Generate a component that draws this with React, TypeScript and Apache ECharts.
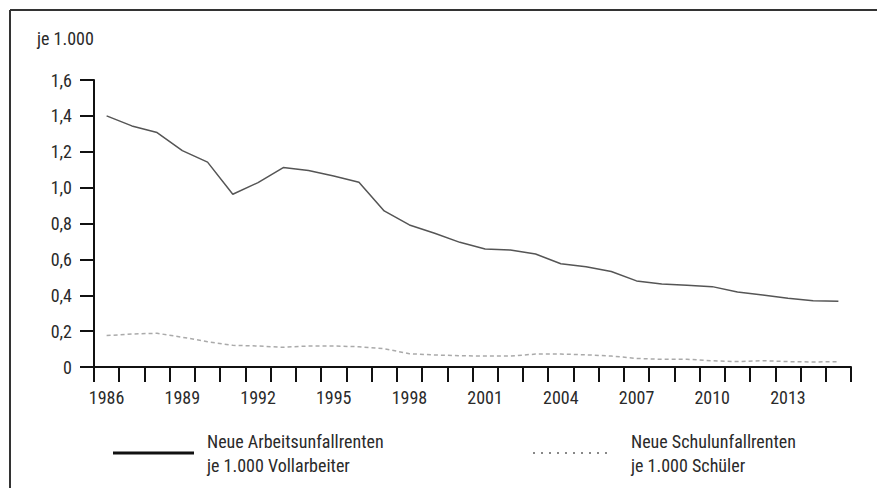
import React, { useEffect, useRef } from "react";
import * as echarts from "echarts";

const years: string[] = [
  "1986", "1987", "1988", "1989", "1990", "1991", "1992", "1993", "1994", "1995",
  "1996", "1997", "1998", "1999", "2000", "2001", "2002", "2003", "2004", "2005",
  "2006", "2007", "2008", "2009", "2010", "2011", "2012", "2013", "2014", "2015",
];

const arbeitsunfallrenten: number[] = [
  1.40, 1.344, 1.307, 1.206, 1.142, 0.963, 1.028, 1.112, 1.095, 1.065,
  1.03, 0.87, 0.792, 0.746, 0.695, 0.658, 0.652, 0.63, 0.576, 0.559,
  0.532, 0.48, 0.463, 0.456, 0.448, 0.418, 0.402, 0.383, 0.37, 0.366,
];

const schulunfallrenten: number[] = [
  0.175, 0.184, 0.188, 0.166, 0.141, 0.121, 0.117, 0.11, 0.117, 0.117,
  0.113, 0.102, 0.074, 0.067, 0.063, 0.061, 0.061, 0.072, 0.072, 0.068,
  0.061, 0.048, 0.043, 0.043, 0.035, 0.03, 0.035, 0.03, 0.028, 0.03,
];

const legendLabels: string[][] = [
  ["Neue Arbeitsunfallrenten", "je 1.000 Vollarbeiter"],
  ["Neue Schulunfallrenten", "je 1.000 Schüler"],
];

const unitLabel = "je 1.000";

const FONT = "'Liberation Sans Narrow', 'Roboto Condensed', Roboto, sans-serif";
const FS = 18;
const TXT = "#2a2a2a";

export default function App() {
  const ref = useRef<HTMLDivElement>(null);

  useEffect(() => {
    if (!ref.current) return;
    const chart = echarts.init(ref.current, undefined, { renderer: "svg" });
    const textStyle = (text: string, x: number, y: number) => ({
      type: "text",
      x,
      y,
      style: {
        text,
        fontFamily: FONT,
        fontSize: FS,
        fill: TXT,
        verticalAlign: "middle",
        align: "left",
      },
    });
    chart.setOption({
      animation: false,
      backgroundColor: "#fff",
      grid: { left: 94, right: 26, top: 80, bottom: 121, containLabel: false },
      xAxis: {
        type: "category",
        data: years,
        boundaryGap: true,
        axisLine: { show: true, lineStyle: { color: "#111", width: 2 } },
        axisTick: {
          show: true,
          interval: 0,
          alignWithLabel: false,
          length: 15,
          lineStyle: { color: "#111", width: 2 },
        },
        axisLabel: {
          interval: 2,
          margin: 21,
          fontFamily: FONT,
          fontSize: FS,
          color: TXT,
        },
        splitLine: { show: false },
      },
      yAxis: {
        type: "value",
        min: 0,
        max: 1.6,
        interval: 0.2,
        axisLine: { show: true, lineStyle: { color: "#111", width: 2 } },
        axisTick: { show: true, length: 14, lineStyle: { color: "#111", width: 2 } },
        axisLabel: {
          margin: 22,
          fontFamily: FONT,
          fontSize: FS,
          color: TXT,
          formatter: (v: number) => (v === 0 ? "0" : v.toFixed(1).replace(".", ",")),
        },
        splitLine: { show: false },
      },
      series: [
        {
          name: legendLabels[0].join(" "),
          type: "line",
          data: arbeitsunfallrenten,
          symbol: "none",
          lineStyle: { color: "#555", width: 1.5 },
          z: 3,
        },
        {
          name: legendLabels[1].join(" "),
          type: "line",
          data: schulunfallrenten,
          symbol: "none",
          lineStyle: { color: "#aaa", width: 1.5, type: [4, 3] },
          z: 2,
        },
      ],
      graphic: [
        { type: "line", shape: { x1: 10, y1: 10, x2: 877, y2: 10 }, style: { stroke: "#333", lineWidth: 2 } },
        { type: "line", shape: { x1: 10, y1: 10, x2: 10, y2: 488 }, style: { stroke: "#333", lineWidth: 2 } },
        textStyle(unitLabel, 37, 38),
        { type: "line", shape: { x1: 113, y1: 453, x2: 194, y2: 453 }, style: { stroke: "#111", lineWidth: 3 } },
        textStyle(legendLabels[0][0], 207, 441),
        textStyle(legendLabels[0][1], 207, 465),
        {
          type: "line",
          shape: { x1: 533, y1: 453, x2: 612, y2: 453 },
          style: { stroke: "#888", lineWidth: 2, lineDash: [2, 6] },
        },
        textStyle(legendLabels[1][0], 631, 441),
        textStyle(legendLabels[1][1], 631, 465),
      ],
    });
    return () => chart.dispose();
  }, []);

  return (
    <div
      ref={ref}
      style={{ position: "fixed", left: 0, top: 0, width: 877, height: 488 }}
    />
  );
}
